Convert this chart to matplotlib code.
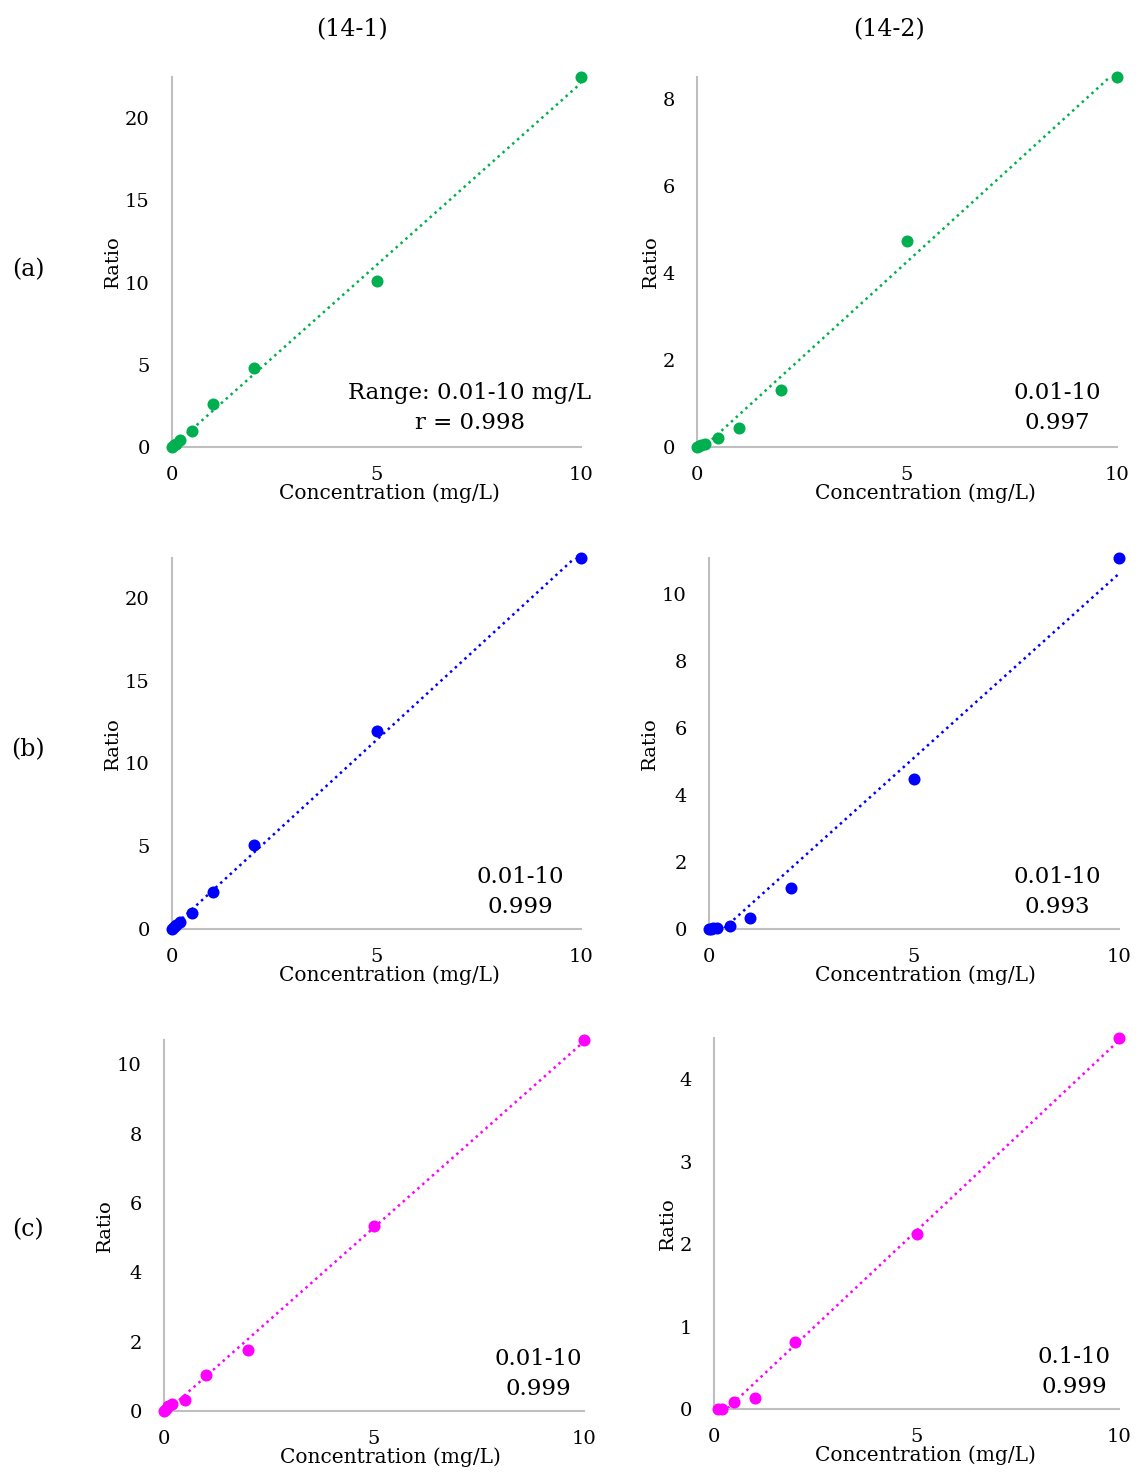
import numpy as np
import matplotlib
matplotlib.use("Agg")
import matplotlib.pyplot as plt

plt.rcParams['font.family'] = ['DejaVu Serif']

# ---- data ----
conc_full = [0.01, 0.05, 0.1, 0.2, 0.5, 1, 2, 5, 10]
conc_c2 = [0.1, 0.2, 0.5, 1, 2, 5, 10]

ratio_a1 = [0.02, 0.1, 0.2, 0.4, 0.97, 2.6, 4.8, 10.1, 22.5]
ratio_a2 = [0.005, 0.02, 0.04, 0.07, 0.2, 0.44, 1.31, 4.74, 8.5]
ratio_b1 = [0.02, 0.1, 0.22, 0.45, 0.97, 2.24, 5.08, 11.96, 22.4]
ratio_b2 = [0.0, 0.01, 0.02, 0.04, 0.1, 0.33, 1.22, 4.48, 11.07]
ratio_c1 = [0.01, 0.07, 0.15, 0.2, 0.33, 1.04, 1.76, 5.33, 10.7]
ratio_c2 = [0.0, 0.0, 0.09, 0.13, 0.81, 2.12, 4.5]

notes_a1 = "Range: 0.01-10 mg/L\nr = 0.998"
notes = ["0.01-10\n0.997", "0.01-10\n0.999", "0.01-10\n0.993",
         "0.01-10\n0.999", "0.1-10\n0.999"]

col_titles = ["(14-1)", "(14-2)"]
row_labels = ["(a)", "(b)", "(c)"]

GREEN = "#00B050"
BLUE = "#0000FF"
MAGENTA = "#FF00FF"

W, H = 1136, 1475
fig = plt.figure(figsize=(W / 100, H / 100), dpi=100)


def px_axes(left, right, top, bottom):
    return fig.add_axes([left / W, 1 - bottom / H, (right - left) / W, (bottom - top) / H])


panels = [
    ((172, 581, 77, 447), conc_full, ratio_a1, 22.5, [0, 5, 10, 15, 20], GREEN, notes_a1, (470, 408), 389),
    ((697, 1117, 77, 447), conc_full, ratio_a2, 8.5, [0, 2, 4, 6, 8], GREEN, notes[0], (1057, 408), 925),
    ((172, 581, 558, 929), conc_full, ratio_b1, 22.4, [0, 5, 10, 15, 20], BLUE, notes[1], (520, 892), 389),
    ((709, 1119, 558, 929), conc_full, ratio_b2, 11.07, [0, 2, 4, 6, 8, 10], BLUE, notes[2], (1057, 892), 925),
    ((164, 584, 1040, 1411), conc_full, ratio_c1, 10.7, [0, 2, 4, 6, 8, 10], MAGENTA, notes[3], (538, 1374), 390),
    ((714, 1119, 1038, 1409), conc_c2, ratio_c2, 4.5, [0, 1, 2, 3, 4], MAGENTA, notes[4], (1074, 1372), 925),
]

for (box, x, y, ymax, yticks, color, note, npos, xlab_c) in panels:
    ax = px_axes(*box)
    x = np.array(x)
    y = np.array(y)
    k, b = np.polyfit(x, y, 1)
    xx = np.array([x.min(), x.max()])
    ax.plot(xx, k * xx + b, linestyle=(0, (1, 1.6)), color=color, lw=1.8, clip_on=True)
    ax.scatter(x, y, s=75, color=color, zorder=3, clip_on=False, linewidths=0)
    ax.set_xlim(0, 10)
    ax.set_ylim(0, ymax)
    ax.set_xticks([0, 5, 10])
    ax.set_yticks(yticks)
    for s in ["top", "right"]:
        ax.spines[s].set_visible(False)
    for s in ["left", "bottom"]:
        ax.spines[s].set_color("#BFBFBF")
        ax.spines[s].set_linewidth(1.5)
    ax.tick_params(length=0, labelsize=14, colors="black")
    ax.tick_params(axis='x', pad=14)
    ax.tick_params(axis='y', pad=16)
    ax.set_xlabel("Concentration (mg/L)", fontsize=14.5, labelpad=-1)
    ax.xaxis.label.set_x((xlab_c - box[0]) / (box[1] - box[0]))
    ax.set_ylabel("Ratio", fontsize=14, labelpad=2)
    ax.set_facecolor("none")
    fig.text(npos[0] / W, 1 - npos[1] / H, note, ha="center", va="center",
             fontsize=16.5, linespacing=1.45)

for i, t in enumerate(col_titles):
    xc = [352, 889][i]
    fig.text(xc / W, 1 - 30 / H, t, ha="center", va="center", fontsize=17)

for i, t in enumerate(row_labels):
    yc = [270, 750, 1230][i]
    fig.text(28 / W, 1 - yc / H, t, ha="center", va="center", fontsize=17)

fig.savefig("out.png", dpi=100, facecolor="white")
